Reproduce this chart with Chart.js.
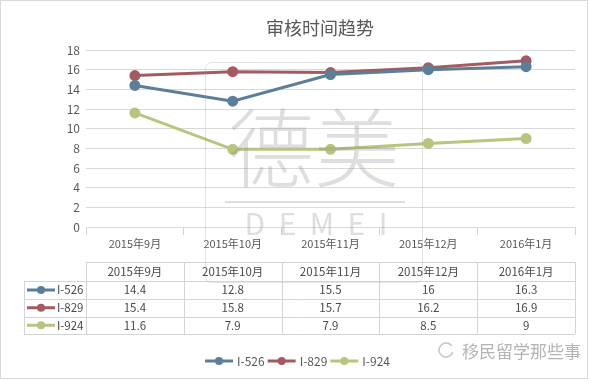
<!DOCTYPE html>
<html><head><meta charset="utf-8">
<script src="https://cdn.jsdelivr.net/npm/chart.js@4/dist/chart.umd.min.js"></script>
<style>html,body{margin:0;padding:0;background:#fff;}#wrap{width:589px;height:381px;}</style>
</head><body><div id="wrap"><canvas id="c" width="589" height="381"></canvas></div>
<script>
const categories = ['2015年9月','2015年10月','2015年11月','2015年12月','2016年1月'];
const seriesNames = ['I-526','I-829','I-924'];
const i526 = [14.4, 12.8, 15.5, 16, 16.3];
const i829 = [15.4, 15.8, 15.7, 16.2, 16.9];
const i924 = [11.6, 7.9, 7.9, 8.5, 9];
const yMin = 0, yMax = 18, yStep = 2;
const chartTitle = '审核时间趋势';
const colors = ['#5b7e99', '#a35b61', '#b9c47f'];
const FONT = '"Noto Sans CJK SC", "Noto Sans", sans-serif';
const seriesValues = [i526, i829, i924];

function drawKey(ctx, x, y, color) {
  ctx.save();
  ctx.strokeStyle = color; ctx.lineWidth = 3;
  ctx.beginPath(); ctx.moveTo(x, y); ctx.lineTo(x + 28, y); ctx.stroke();
  ctx.fillStyle = color;
  ctx.beginPath(); ctx.arc(x + 14, y, 4, 0, Math.PI * 2); ctx.fill();
  ctx.restore();
}

const extras = {
  id: 'extras',
  afterDraw(chart) {
    const ctx = chart.ctx;
    const xs = chart.scales.x;
    const n = categories.length;
    const left = xs.left, right = xs.right;
    const w = (right - left) / n;
    const rows = [262, 281, 299, 316.5, 334];
    const keyLeft = 24;
    ctx.save();
    // title
    ctx.fillStyle = '#595959';
    ctx.font = '18px ' + FONT;
    ctx.textAlign = 'center'; ctx.textBaseline = 'middle';
    ctx.fillText(chartTitle, 320, 28);
    ctx.strokeStyle = '#d4d4d4'; ctx.lineWidth = 1;
    // horizontal lines
    rows.forEach((y, i) => {
      ctx.beginPath();
      ctx.moveTo(i === 0 ? left : keyLeft, Math.round(y) + 0.5);
      ctx.lineTo(right, Math.round(y) + 0.5);
      ctx.stroke();
    });
    // vertical lines
    for (let i = 0; i <= n; i++) {
      const x = Math.round(left + i * w) + 0.5;
      ctx.beginPath(); ctx.moveTo(x, rows[0]); ctx.lineTo(x, rows[4]); ctx.stroke();
    }
    ctx.beginPath(); ctx.moveTo(keyLeft + 0.5, rows[1]); ctx.lineTo(keyLeft + 0.5, rows[4]); ctx.stroke();
    // header text
    ctx.fillStyle = '#4a4a4a';
    ctx.font = '11.5px ' + FONT;
    categories.forEach((c, i) => {
      ctx.fillText(c, xs.getPixelForValue(i), (rows[0] + rows[1]) / 2);
    });
    seriesValues.forEach((vals, r) => {
      const cy = (rows[r + 1] + rows[r + 2]) / 2;
      vals.forEach((v, i) => {
        ctx.fillText(String(v), xs.getPixelForValue(i), cy);
      });
      drawKey(ctx, 27, cy, colors[r]);
      ctx.textAlign = 'left';
      ctx.fillText(seriesNames[r], 57, cy);
      ctx.textAlign = 'center';
    });
    // bottom legend
    let lx = 205;
    const ly = 361;
    ctx.textAlign = 'left';
    ctx.fillStyle = '#595959';
    ctx.font = '12px ' + FONT;
    seriesNames.forEach((s, r) => {
      drawKey(ctx, lx, ly, colors[r]);
      ctx.fillText(s, lx + 32, ly);
      lx += 32 + ctx.measureText(s).width + 3;
    });
    // watermark
    ctx.globalAlpha = 0.28;
    ctx.strokeStyle = '#9a9a9a';
    ctx.lineWidth = 1;
    ctx.beginPath();
    if (ctx.roundRect) ctx.roundRect(205.5, 62.5, 217, 220, 6); else ctx.rect(205.5, 62.5, 217, 220);
    ctx.stroke();
    ctx.fillStyle = '#8a8a8a';
    ctx.textAlign = 'center'; ctx.textBaseline = 'middle';
    ctx.font = '300 86px ' + FONT;
    ctx.fillText('德美', 314, 148);
    ctx.fillRect(225, 201, 180, 2);
    ctx.font = '30px ' + FONT;
    ctx.fillText('D  E  M  E  I', 316, 224);
    ctx.globalAlpha = 1;
    // wechat mark
    ctx.fillStyle = '#b4b4b4';
    ctx.font = '17px ' + FONT;
    ctx.textAlign = 'left';
    ctx.fillText('移民留学那些事', 462, 352);
    ctx.strokeStyle = '#c4c4c4'; ctx.lineWidth = 1.5;
    ctx.beginPath(); ctx.arc(446, 350, 7, 0.3, Math.PI * 1.8); ctx.stroke();
    // outer border
    ctx.strokeStyle = '#d9d9d9'; ctx.lineWidth = 1;
    ctx.strokeRect(0.5, 0.5, 587, 378);
    ctx.restore();
  }
};

const ds = seriesNames.map((name, i) => ({
  label: name,
  data: seriesValues[i],
  borderColor: colors[i],
  backgroundColor: colors[i],
  borderWidth: 3,
  pointRadius: 4,
  pointHoverRadius: 4,
  pointBackgroundColor: colors[i],
  pointBorderColor: colors[i],
  tension: 0,
  fill: false
}));

new Chart(document.getElementById('c'), {
  type: 'line',
  data: { labels: categories, datasets: ds },
  options: {
    responsive: false,
    animation: false,
    devicePixelRatio: 1,
    layout: { padding: { left: 0, right: 14, top: 50, bottom: 119 } },
    plugins: {
      legend: { display: false },
      tooltip: { enabled: false },
      title: { display: false }
    },
    scales: {
      x: {
        offset: true,
        afterFit(s) { s.height = 35; },
        grid: { offset: true, drawOnChartArea: false, tickLength: 8, color: '#d4d4d4' },
        border: { display: false },
        ticks: { color: '#595959', font: { family: FONT, size: 11 }, padding: 2, maxRotation: 0 }
      },
      y: {
        min: yMin, max: yMax,
        afterFit(s) { s.width = 86; },
        grid: { color: '#d9d9d9', drawTicks: false },
        border: { display: false },
        ticks: { stepSize: yStep, color: '#595959', font: { family: FONT, size: 12 }, padding: 6 }
      }
    }
  },
  plugins: [extras]
});
</script></body></html>
